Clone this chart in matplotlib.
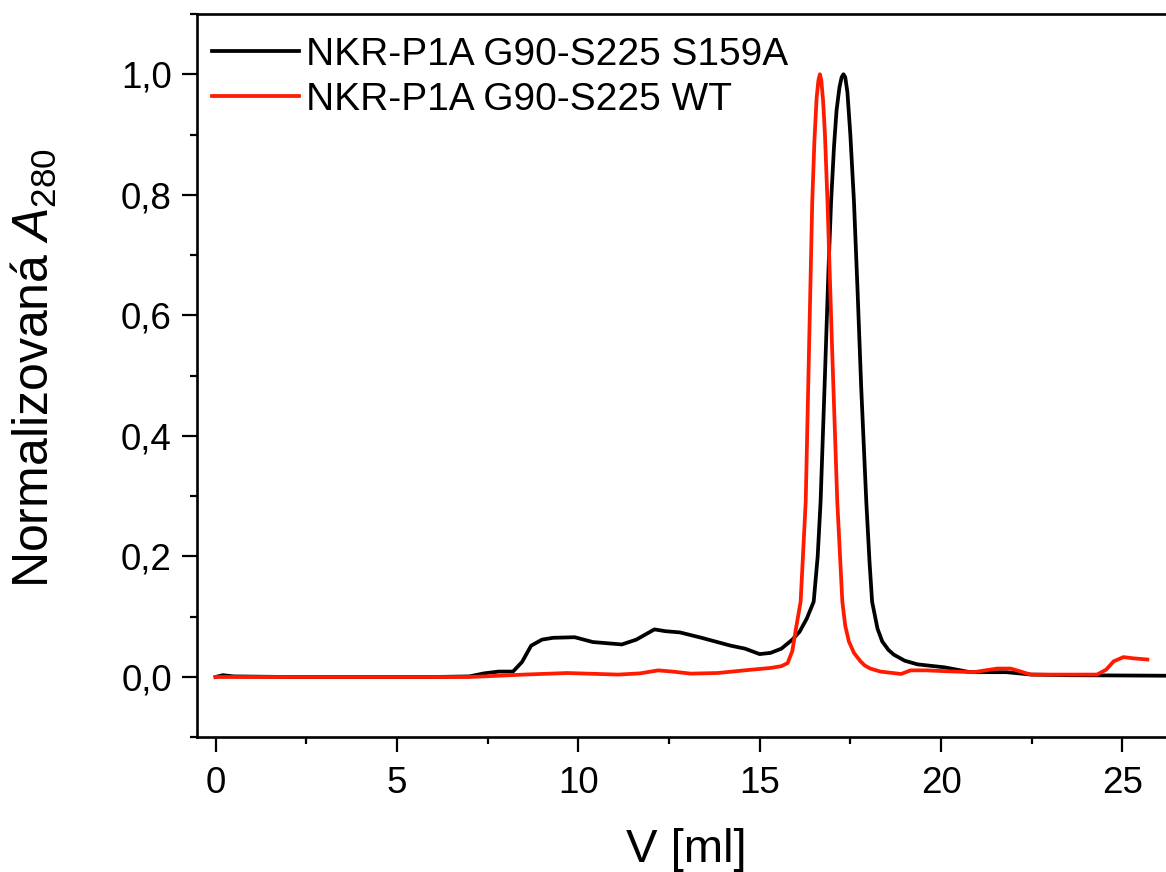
import numpy as np
import matplotlib
matplotlib.use("Agg")
import matplotlib.pyplot as plt
from matplotlib.ticker import MultipleLocator, FuncFormatter

plt.rcParams['font.family'] = ['Liberation Sans', 'DejaVu Sans']
plt.rcParams['mathtext.fontset'] = 'custom'
plt.rcParams['mathtext.rm'] = 'Liberation Sans'
plt.rcParams['mathtext.it'] = 'Liberation Sans:italic'

# S159A mutant (black)
v_s159a = [0.0, 0.2, 0.5, 2.0, 4.0, 6.0, 7.0, 7.4, 7.8, 8.2, 8.45, 8.7, 9.0,
           9.3, 9.9, 10.4, 11.2, 11.6, 12.1, 12.4, 12.8, 13.4, 14.2, 14.6,
           15.0, 15.3, 15.6, 15.9, 16.1, 16.3, 16.49, 16.6, 16.68, 16.8,
           16.9, 16.97, 17.05, 17.12, 17.2, 17.26, 17.31, 17.36, 17.42,
           17.5, 17.6, 17.7, 17.8, 17.94, 18.03, 18.1, 18.25, 18.38, 18.55,
           18.7, 19.0, 19.35, 19.8, 20.1, 20.8, 21.8, 22.5, 23.5, 26.5]
a_s159a = [0.0, 0.003, 0.001, 0.0, 0.0, 0.0, 0.001, 0.006, 0.009, 0.009,
           0.025, 0.052, 0.062, 0.065, 0.066, 0.058, 0.054, 0.062, 0.079,
           0.076, 0.074, 0.065, 0.052, 0.047, 0.038, 0.040, 0.047, 0.062,
           0.075, 0.097, 0.125, 0.20, 0.291, 0.50, 0.68, 0.789, 0.88, 0.94,
           0.978, 0.995, 1.0, 0.995, 0.97, 0.90, 0.789, 0.64, 0.48, 0.291,
           0.19, 0.125, 0.08, 0.059, 0.045, 0.037, 0.027, 0.021, 0.018,
           0.016, 0.008, 0.008, 0.004, 0.003, 0.002]

# wild type (red)
v_wt = [0.0, 2.0, 4.0, 6.0, 7.0, 7.4, 8.5, 9.7, 11.1, 11.7, 12.2, 12.6,
        13.1, 13.84, 14.75, 15.3, 15.6, 15.77, 15.9, 16.0, 16.13, 16.27,
        16.36, 16.45, 16.51, 16.57, 16.62, 16.66, 16.7, 16.75, 16.8, 16.87,
        17.0, 17.14, 17.28, 17.36, 17.46, 17.6, 17.78, 17.9, 18.05, 18.33,
        18.9, 19.16, 19.6, 20.17, 20.9, 21.55, 21.92, 22.2, 22.47, 24.3,
        24.55, 24.76, 25.03, 25.3, 25.69]
a_wt = [0.0, 0.0, 0.0, 0.0, 0.0, 0.001, 0.004, 0.0066, 0.004, 0.006, 0.011,
        0.009, 0.0056, 0.0066, 0.012, 0.015, 0.018, 0.023, 0.043, 0.08,
        0.125, 0.291, 0.54, 0.789, 0.89, 0.96, 0.99, 1.0, 0.99, 0.955,
        0.90, 0.789, 0.54, 0.291, 0.125, 0.085, 0.059, 0.04, 0.026, 0.019,
        0.014, 0.009, 0.005, 0.011, 0.011, 0.0095, 0.008, 0.014, 0.014,
        0.009, 0.004, 0.004, 0.012, 0.026, 0.033, 0.031, 0.029]

labels = ["NKR-P1A G90-S225 S159A", "NKR-P1A G90-S225 WT"]

fig = plt.figure(figsize=(11.66, 8.72), dpi=100)
ax = fig.add_axes([0.1687, 0.1545, 0.8561, 0.8295])

ax.plot(v_s159a, a_s159a, color="black", linewidth=2.7, label=labels[0])
ax.plot(v_wt, a_wt, color="#ff1a00", linewidth=2.7, label=labels[1])

ax.set_xlim(-0.52, 27.0)
ax.set_ylim(-0.1, 1.1)

ax.xaxis.set_major_locator(MultipleLocator(5))
ax.xaxis.set_minor_locator(MultipleLocator(2.5))
ax.set_yticks([0.0, 0.2, 0.4, 0.6, 0.8, 1.0])
ax.set_yticks(np.round(np.arange(-0.1, 1.15, 0.1), 2), minor=True)
ax.yaxis.set_major_formatter(FuncFormatter(lambda v, p: f"{v:.1f}".replace(".", ",")))

ax.tick_params(which="major", direction="out", length=10.8, width=1.6,
               labelsize=26.5, pad=7)
ax.tick_params(which="minor", direction="out", length=5, width=1.6)
ax.tick_params(axis="x", which="major", pad=10)

for s in ax.spines.values():
    s.set_linewidth(1.9)

ax.set_xlabel("V [ml]", fontsize=34)
ax.set_ylabel(r"Normalizovaná $A_{280}$", fontsize=36)
ax.xaxis.set_label_coords(0.49, -0.125)
ax.yaxis.set_label_coords(-0.138, 0.51)

ax.legend(frameon=False, loc="upper left", bbox_to_anchor=(0.0153, 0.968),
          borderaxespad=0, borderpad=0, fontsize=28, handlelength=2.24,
          handletextpad=0.18, labelspacing=0.22)

fig.savefig("out.png", dpi=100)
